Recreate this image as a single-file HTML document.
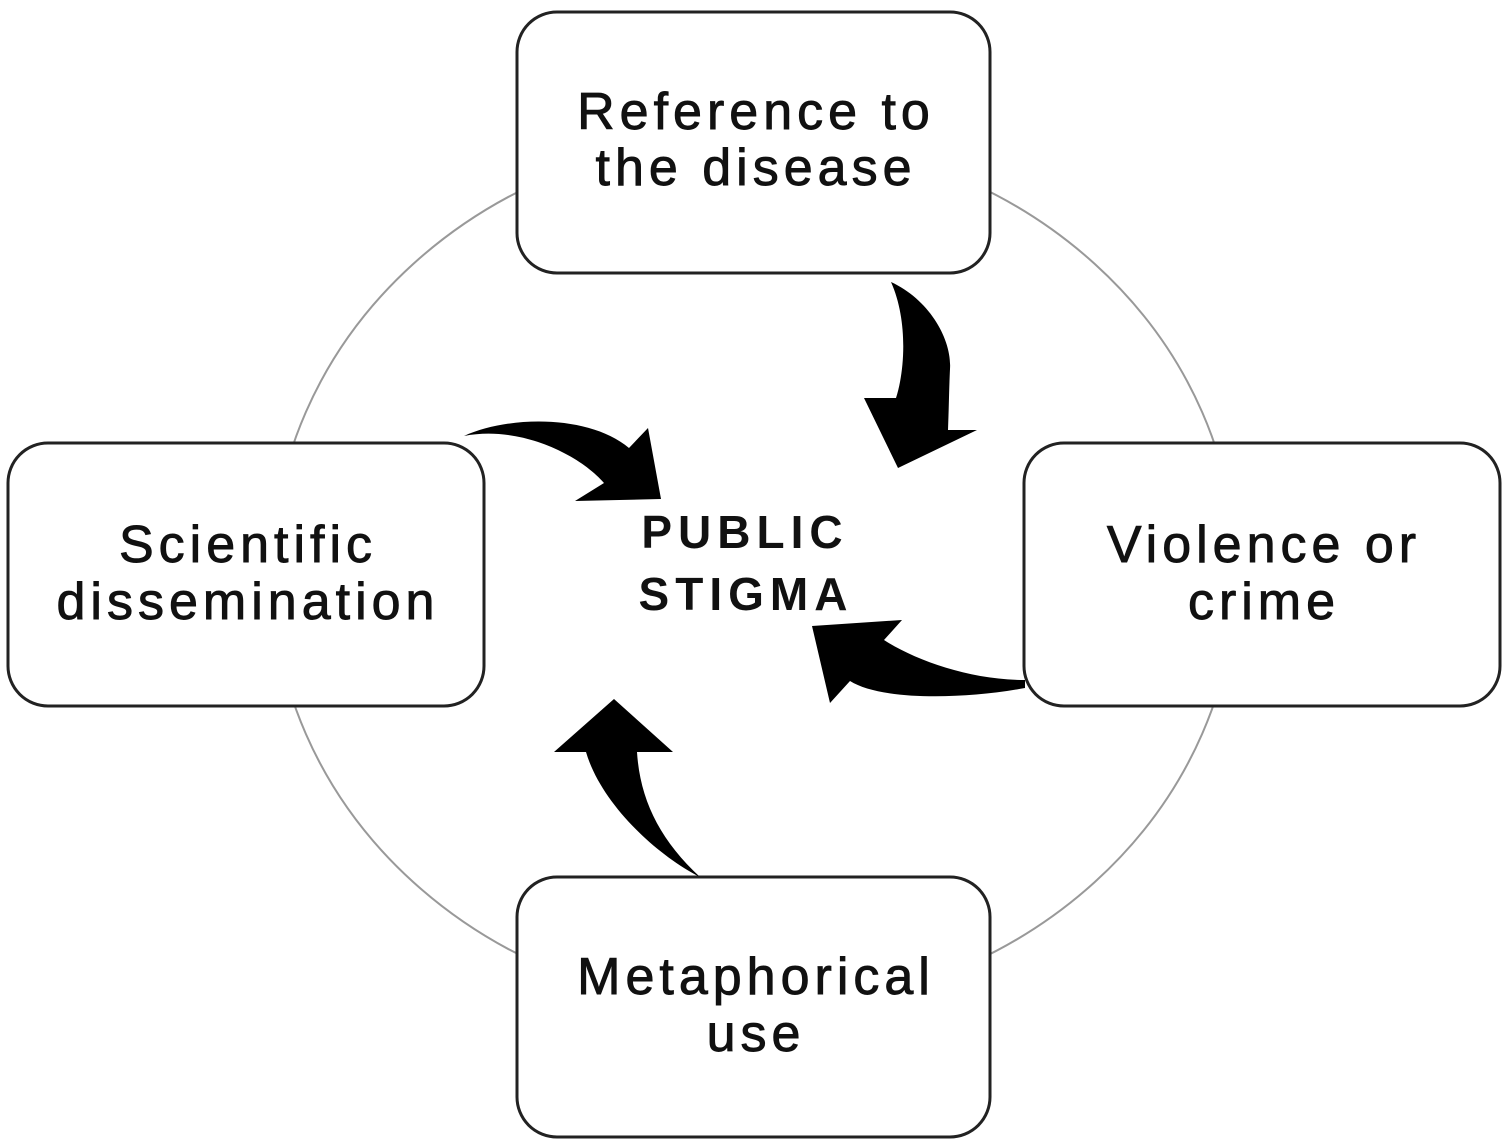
<!DOCTYPE html>
<html><head><meta charset="utf-8"><style>
html,body{margin:0;padding:0;background:#fff;width:1508px;height:1144px;overflow:hidden}
svg{display:block}
text{font-family:"Liberation Sans",sans-serif;fill:#111}
</style></head><body>
<svg width="1508" height="1144" viewBox="0 0 1508 1144">
<ellipse cx="754" cy="573" rx="482" ry="437" fill="none" stroke="#999" stroke-width="2"/>
<g fill="#fff" stroke="#222" stroke-width="3">
<rect x="517" y="12" width="473" height="261" rx="40"/>
<rect x="8" y="443" width="476" height="263" rx="40"/>
<rect x="1024" y="443" width="476" height="263" rx="40"/>
<rect x="517" y="877" width="473" height="260" rx="40"/>
</g>
<g fill="#000">
<path d="M891,282 C930,300 952,340 950,369 C949,390 949,405 948,430 L977,430 L898,468 L864,398 L896,398 C905,370 908,320 891,282 Z"/>
<path d="M464,436 C510,415 590,415 629,448 L648,428 L661,499 L575,501 L604,483 C580,455 520,425 464,436 Z"/>
<path d="M1025,680 C970,680 915,660 884,640 L902,620 L812,626 L830,703 L850,681 C880,700 960,700 1025,688 Z"/>
<path d="M696,875 C650,850 600,800 586,752 L554,752 L614,699 L673,752 L637,752 C640,800 660,840 700,877 Z"/>
</g>
<g font-size="52" text-anchor="middle" letter-spacing="5" stroke="#111" stroke-width="0.9">
<text x="756" y="129">Reference to</text>
<text x="756" y="185">the disease</text>
<text x="248" y="562">Scientific</text>
<text x="248" y="619">dissemination</text>
<text x="1264" y="562">Violence or</text>
<text x="1264" y="619">crime</text>
<text x="756" y="994">Metaphorical</text>
<text x="756" y="1051">use</text>
</g>
<g font-size="46" font-weight="bold" text-anchor="middle" letter-spacing="6">
<text x="745" y="548">PUBLIC</text>
<text x="746" y="610">STIGMA</text>
</g>
</svg>
</body></html>
